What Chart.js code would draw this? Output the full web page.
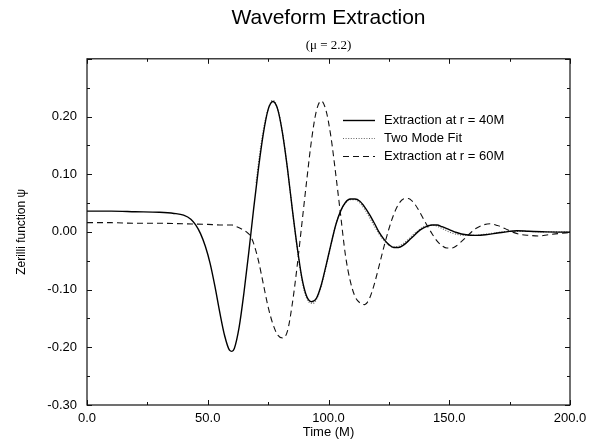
<!DOCTYPE html>
<html>
<head>
<meta charset="utf-8">
<script src="https://cdn.jsdelivr.net/npm/chart.js@4/dist/chart.umd.min.js"></script>
<style>
html,body{margin:0;padding:0;background:#fff;}
#wrap{width:598px;height:444px;}
</style>
</head>
<body>
<div id="wrap"><canvas id="c" width="598" height="444"></canvas></div>
<script>
// ---- data ----
const chartTitle = "Waveform Extraction";
const chartSubtitle = "(\u03bc = 2.2)";
const xTitle = "Time (M)";
const yTitle = "Zerilli function \u03c8";
const seriesNames = ["Extraction at r = 40M", "Two Mode Fit", "Extraction at r = 60M"];

const t40 = [0,10,20,30,36,40,43,45,47,49,51,53,55,57,59,60,61,63,65,67,69,71,73,75,77,79,81,83,85,87,89,91,93,95,97,99,101,103,105,107,109,111,113,115,117,119,121,123,125,127,129,131,133,135,137,139,141,143,145,147,150,153,157,161,165,170,175,178,183,190,200];
const psi40 = [0.036,0.036,0.035,0.034,0.032,0.029,0.022,0.012,-0.003,-0.025,-0.055,-0.095,-0.140,-0.180,-0.205,-0.207,-0.202,-0.165,-0.105,-0.035,0.040,0.110,0.170,0.212,0.226,0.212,0.170,0.110,0.040,-0.025,-0.080,-0.112,-0.121,-0.115,-0.092,-0.058,-0.022,0.012,0.036,0.051,0.057,0.057,0.053,0.043,0.030,0.015,-0.001,-0.013,-0.022,-0.027,-0.027,-0.023,-0.016,-0.008,0.000,0.006,0.010,0.012,0.012,0.009,0.004,-0.001,-0.005,-0.006,-0.005,-0.002,0.001,0.002,0.001,0.000,-0.0005];

const tFit = [70,72,74,76,77,78,80,82,84,86,88,90,92,93.5,95,97,99,101,103,105,107,109,111,113,115,117,119,121,123,125,127,129,131,133,135,137,139,141,143,145,147,150,153,156,160,165,170,175,180,190,200];
const psiFit = [0.085,0.150,0.197,0.224,0.228,0.224,0.195,0.142,0.075,0.005,-0.058,-0.103,-0.122,-0.124,-0.117,-0.094,-0.060,-0.023,0.012,0.036,0.050,0.056,0.056,0.050,0.039,0.025,0.010,-0.004,-0.015,-0.023,-0.026,-0.025,-0.020,-0.013,-0.005,0.002,0.008,0.011,0.012,0.010,0.006,0.000,-0.004,-0.006,-0.006,-0.004,-0.001,0.001,0.001,0.000,0.000];

const t60 = [0,10,20,30,40,50,55,60,62,64,66,67.5,69,71,73,75,77,79,81,83,85,87,89,91,93,95,97,99,101,103,105,107,109,111,113,115,117,119,121,123,125,127,129,131,133,135,137,139,141,143,145,147,149,151,153,155,157,159,161,164,167,170,173,176,179,183,187,191,195,200];
const psi60 = [0.016,0.016,0.015,0.015,0.014,0.013,0.012,0.012,0.009,0.005,0.000,-0.006,-0.020,-0.050,-0.090,-0.130,-0.160,-0.179,-0.184,-0.172,-0.125,-0.060,0.015,0.090,0.160,0.210,0.227,0.210,0.165,0.100,0.030,-0.040,-0.085,-0.112,-0.123,-0.126,-0.115,-0.090,-0.058,-0.025,0.005,0.030,0.048,0.057,0.058,0.052,0.040,0.025,0.010,-0.004,-0.016,-0.024,-0.028,-0.028,-0.024,-0.017,-0.009,-0.001,0.006,0.012,0.014,0.011,0.006,0.000,-0.004,-0.006,-0.007,-0.005,-0.003,-0.001];

const xMin = 0, xMax = 200, xStep = 50, xMinor = 25;
const yMin = -0.30, yMax = 0.30, yStep = 0.10, yMinor = 0.05;

function pts(xs, ys){ return xs.map((x,i)=>({x:x, y:ys[i]})); }

const FONT = "'Liberation Sans', Arial, Helvetica, sans-serif";

// Inward ticks on all four sides + frame
const frameTicks = {
  id: 'frameTicks',
  afterDatasetsDraw(chart){
    const {ctx, chartArea:a, scales:{x, y}} = chart;
    ctx.save();
    ctx.strokeStyle = '#111';
    ctx.lineWidth = 1.2;
    ctx.setLineDash([]);
    ctx.strokeRect(a.left, a.top, a.right - a.left, a.bottom - a.top);
    ctx.lineWidth = 1;
    ctx.beginPath();
    for (let v = xMin; v <= xMax + 1e-9; v += xMinor) {
      const px = Math.round(x.getPixelForValue(v)) + 0.5;
      const major = Math.abs(v / xStep - Math.round(v / xStep)) < 1e-6;
      const L = major ? 5 : 3;
      ctx.moveTo(px, a.bottom); ctx.lineTo(px, a.bottom - L);
      ctx.moveTo(px, a.top); ctx.lineTo(px, a.top + L);
    }
    for (let k = 0; k <= Math.round((yMax - yMin) / yMinor); k++) {
      const v = yMin + k * yMinor;
      const py = Math.round(y.getPixelForValue(v)) + 0.5;
      const major = k % 2 === 0;
      const L = major ? 5 : 3;
      ctx.moveTo(a.left, py); ctx.lineTo(a.left + L, py);
      ctx.moveTo(a.right, py); ctx.lineTo(a.right - L, py);
    }
    ctx.stroke();
    ctx.restore();
  }
};

// Legend inside the plot, top-right
const innerLegend = {
  id: 'innerLegend',
  afterDatasetsDraw(chart){
    const {ctx} = chart;
    const rows = [120, 138, 156];
    const x0 = 343, x1 = 375, tx = 384;
    ctx.save();
    chart.data.datasets.forEach((ds, i) => {
      const yy = rows[i] + 0.5;
      ctx.beginPath();
      ctx.strokeStyle = ds.borderColor;
      ctx.lineWidth = ds.borderWidth;
      ctx.setLineDash(ds.borderDash || []);
      ctx.moveTo(x0, yy); ctx.lineTo(x1, yy);
      ctx.stroke();
      ctx.setLineDash([]);
      ctx.fillStyle = '#000';
      ctx.font = "13px " + FONT;
      ctx.textBaseline = 'middle';
      ctx.textAlign = 'left';
      ctx.fillText(ds.label, tx, rows[i]);
    });
    ctx.restore();
  }
};

new Chart(document.getElementById('c'), {
  type: 'line',
  data: {
    datasets: [
      { label: seriesNames[0], data: pts(t40, psi40), borderColor: '#000', borderWidth: 1.4, borderDash: [], pointRadius: 0, fill: false, cubicInterpolationMode: 'monotone' },
      { label: seriesNames[1], data: pts(tFit, psiFit), borderColor: '#666', borderWidth: 1.2, borderDash: [1, 1.6], pointRadius: 0, fill: false, cubicInterpolationMode: 'monotone' },
      { label: seriesNames[2], data: pts(t60, psi60), borderColor: '#111', borderWidth: 1.1, borderDash: [6, 4], pointRadius: 0, fill: false, cubicInterpolationMode: 'monotone' }
    ]
  },
  options: {
    responsive: false,
    animation: false,
    events: [],
    layout: { padding: { left: 0, right: 28, top: 0, bottom: 0 } },
    plugins: {
      legend: { display: false },
      tooltip: { enabled: false },
      title: {
        display: true, text: chartTitle, fullSize: false, color: '#000',
        font: { family: FONT, size: 21, weight: 'normal' },
        padding: { top: 6, bottom: 4 }
      },
      subtitle: {
        display: true, text: chartSubtitle, fullSize: false, color: '#000',
        font: { family: "'Liberation Serif', 'Times New Roman', serif", size: 13, weight: 'normal' },
        padding: { top: 3, bottom: 5 }
      }
    },
    scales: {
      x: {
        type: 'linear', min: xMin, max: xMax,
        afterFit(s){ s.height = 39; },
        grid: { display: false, drawTicks: false },
        border: { display: false },
        ticks: { stepSize: xStep, padding: 6, color: '#000', maxRotation: 0,
          font: { family: FONT, size: 13 },
          callback: v => Number(v).toFixed(1) },
        title: { display: true, text: xTitle, color: '#000', font: { family: FONT, size: 13 }, padding: { top: 0, bottom: 4 } }
      },
      y: {
        type: 'linear', min: yMin, max: yMax,
        afterFit(s){ s.width = 87; },
        afterBuildTicks(s){ s.ticks = s.ticks.filter(t => t.value < 0.29); },
        grid: { display: false, drawTicks: false },
        border: { display: false },
        ticks: { stepSize: yStep, padding: 10, color: '#000',
          font: { family: FONT, size: 13 },
          callback: v => Number(v).toFixed(2) },
        title: { display: true, text: yTitle, color: '#000', font: { family: FONT, size: 12 }, padding: { top: 14, bottom: 0 } }
      }
    }
  },
  plugins: [frameTicks, innerLegend]
});
</script>
</body>
</html>
